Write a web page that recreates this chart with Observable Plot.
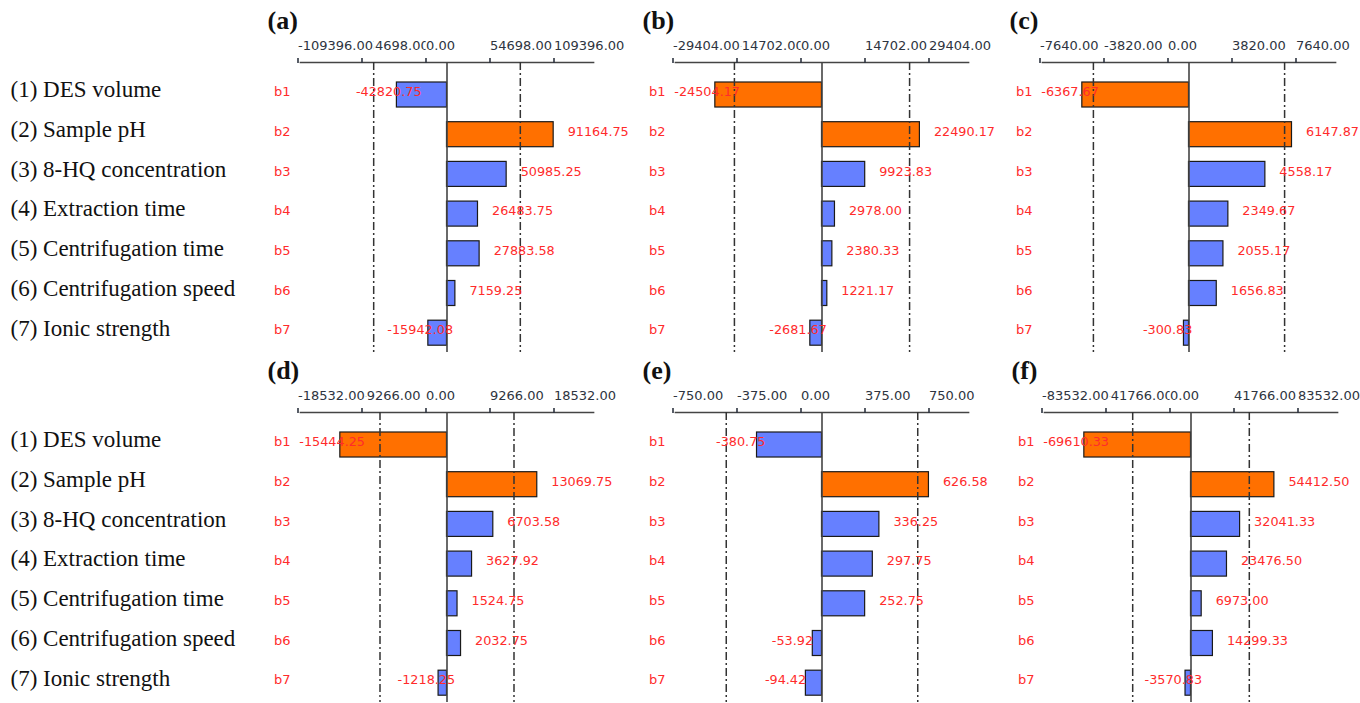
<!DOCTYPE html>
<html>
<head>
<meta charset="utf-8">
<script src="https://cdn.jsdelivr.net/npm/d3@7"></script>
<script src="https://cdn.jsdelivr.net/npm/@observablehq/plot@0.6"></script>
<style>
  html, body { margin: 0; padding: 0; background: #fff; }
  #wrap { position: relative; width: 1360px; height: 703px; overflow: hidden; background: #fff; }
  #wrap svg { position: absolute; overflow: visible; background: transparent; max-width: none; }
</style>
</head>
<body>
<div id="wrap"></div>
<script>
// ---- data ----
const params = ["b1", "b2", "b3", "b4", "b5", "b6", "b7"];
const factorNames = [
  "(1) DES volume",
  "(2) Sample pH",
  "(3) 8-HQ concentration",
  "(4) Extraction time",
  "(5) Centrifugation time",
  "(6) Centrifugation speed",
  "(7) Ionic strength"
];
const panelLetters = ["(a)", "(b)", "(c)", "(d)", "(e)", "(f)"];
const tickSteps = [54698, 14702, 3820, 9266, 375, 41766];
const criticalValues = [62660, 20120, 5706, 9700, 561, 38050];
const effectsA = [-42820.75, 91164.75, 50985.25, 26483.75, 27883.58, 7159.25, -15942.08];
const effectsB = [-24504.17, 22490.17, 9923.83, 2978.00, 2380.33, 1221.17, -2681.67];
const effectsC = [-6367.67, 6147.87, 4558.17, 2349.67, 2055.17, 1656.83, -300.83];
const effectsD = [-15444.25, 13069.75, 6703.58, 3627.92, 1524.75, 2032.75, -1218.25];
const effectsE = [-380.75, 626.58, 336.25, 297.75, 252.75, -53.92, -94.42];
const effectsF = [-69610.33, 54412.50, 32041.33, 23476.50, 6973.00, 14299.33, -3570.83];
const panelEffects = [effectsA, effectsB, effectsC, effectsD, effectsE, effectsF];

// ---- layout / style ----
const zeroX = [446, 821, 1188, 446, 821, 1190];
const rowTop = [0, 0, 0, 350, 350, 350];
const HALF = 146.5;         // px from zero to axis end
const ML = 36, MR = 40, MT = 62, H = 356, MB = 4;
const yRange = [82, 82 + 6 * 39.7 + 25];
const BLUE = "#6680ff", ORANGE = "#ff7000", RED = "#ff2b2b";
const SANS = "DejaVu Sans, Verdana, sans-serif";
const SERIF = "Liberation Serif, Times New Roman, serif";
const fmt = v => v.toFixed(2);

const wrap = document.getElementById("wrap");
const yScale = () => ({type: "band", domain: params, range: yRange, paddingInner: 0.37, paddingOuter: 0, round: false, axis: null});

// left factor labels (top and bottom rows)
for (const top of [0, 350]) {
  const rows = params.map((b, i) => ({b, name: factorNames[i]}));
  const svg = Plot.plot({
    width: 264, height: H, marginTop: MT, marginBottom: MB, marginLeft: 10, marginRight: 0,
    y: yScale(),
    x: {axis: null},
    marks: [
      Plot.text(rows, {y: "b", text: "name", frameAnchor: "left", textAnchor: "start",
        dy: -5, fontSize: 23, fontFamily: SERIF, fill: "#111"})
    ]
  });
  svg.style.left = "0px";
  svg.style.top = top + "px";
  wrap.appendChild(svg);
}

// six effect panels
panelEffects.forEach((vals, p) => {
  const T = tickSteps[p];
  const crit = criticalValues[p];
  const data = params.map((b, i) => ({b, v: vals[i]}));
  const ext = T * HALF / 64;
  const svg = Plot.plot({
    width: ML + 2 * HALF + MR, height: H,
    marginTop: MT, marginBottom: MB, marginLeft: ML, marginRight: MR,
    x: {domain: [-ext, ext], axis: null},
    y: yScale(),
    marks: [
      Plot.frame({anchor: "top", stroke: "#444", strokeWidth: 1.7}),
      Plot.axisX({anchor: "top", ticks: [-T, -2 * T, 0, T, 2 * T], tickSize: 5, tickPadding: 8,
        tickFormat: fmt, textAnchor: "start", dx: -21, fontSize: 13, fontFamily: SANS,
        color: "#2e3440", strokeWidth: 1.6, textStroke: "white", textStrokeWidth: 4, label: null}),
      Plot.barX(data, {x: "v", y: "b",
        fill: d => Math.abs(d.v) > crit ? ORANGE : BLUE, stroke: "#1a1a1a", strokeWidth: 1.2}),
      Plot.ruleX([0], {stroke: "#444", strokeWidth: 1.6}),
      Plot.ruleX([-crit, crit], {stroke: "#333", strokeWidth: 1.5, strokeDasharray: "8,3,2,3"}),
      Plot.text(data, {y: "b", text: "b", frameAnchor: "left", dx: -10, dy: -3, textAnchor: "end",
        fontSize: 13, fontFamily: SANS, fill: RED}),
      Plot.text(data.filter(d => d.v >= 0), {x: "v", y: "b", text: d => fmt(d.v), textAnchor: "start",
        dx: 14, dy: -3, fontSize: 12.8, fontFamily: SANS, fill: RED}),
      Plot.text(data.filter(d => d.v < 0), {x: "v", y: "b", text: d => fmt(d.v), textAnchor: "start",
        dx: -41, dy: -3, fontSize: 12.8, fontFamily: SANS, fill: RED}),
      Plot.text([panelLetters[p]], {frameAnchor: "top-left", dx: -33, dy: -52, textAnchor: "start",
        lineAnchor: "top", fontSize: 26, fontWeight: "bold", fontFamily: SERIF, fill: "#111"})
    ]
  });
  svg.style.left = (zeroX[p] - HALF - ML) + "px";
  svg.style.top = rowTop[p] + "px";
  wrap.appendChild(svg);
});
</script>
</body>
</html>
